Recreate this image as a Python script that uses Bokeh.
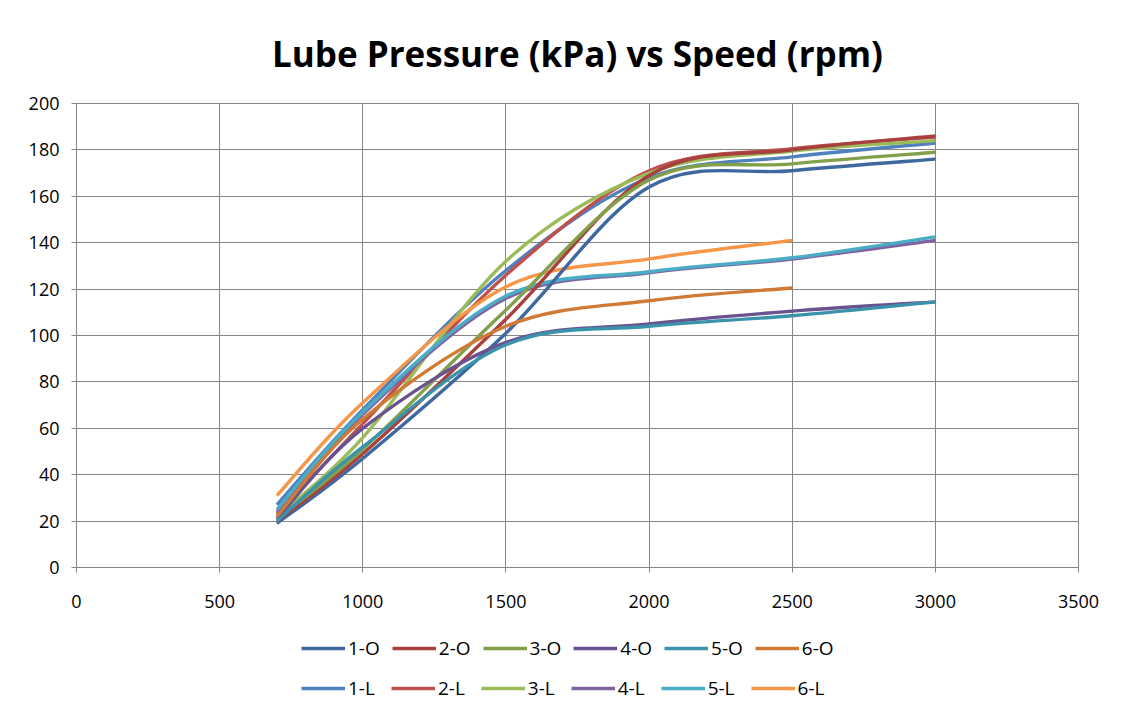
from bokeh.plotting import figure
from bokeh.models import Legend, LegendItem, Range1d, FixedTicker, Title
from bokeh.layouts import column
from bokeh.embed import file_html
from bokeh.resources import INLINE

# ---- data ----
speed_full = [700, 1000, 1500, 2000, 2500, 3000]
speed_short = [700, 1000, 1500, 2000, 2500]

s1_O = [19, 47, 101, 164, 171, 176]
s2_O = [20, 49, 107, 169, 180, 186]
s3_O = [21, 51, 111, 167, 174, 179]
s4_O = [21, 60, 97, 105, 110.5, 114.5]
s5_O = [20, 52, 96, 104, 108.5, 114.5]
s6_O = [22, 64, 104, 115, 120.5]

s1_L = [27, 68, 128, 168, 177, 183]
s2_L = [23, 62, 126, 171, 180.5, 185.5]
s3_L = [22, 56, 132, 170, 179.5, 184]
s4_L = [24, 66, 116, 127, 133, 141]
s5_L = [25, 67, 117, 127.5, 133.5, 142.5]
s6_L = [31, 71, 121, 133, 141]

names = ["1-O", "2-O", "3-O", "4-O", "5-O", "6-O",
         "1-L", "2-L", "3-L", "4-L", "5-L", "6-L"]
values = [s1_O, s2_O, s3_O, s4_O, s5_O, s6_O,
          s1_L, s2_L, s3_L, s4_L, s5_L, s6_L]
colors = ["#3F68A0", "#A8403D", "#82A04A", "#6A5290", "#3A93AA", "#D07A36",
          "#4F81BD", "#C0504D", "#9BBB59", "#8064A2", "#4BACC6", "#F79646"]

x_ticks = [0, 500, 1000, 1500, 2000, 2500, 3000, 3500]
y_ticks = [0, 20, 40, 60, 80, 100, 120, 140, 160, 180, 200]

FONT = "Open Sans"

p = figure(width=1122, height=622, output_backend="svg", toolbar_location=None,
           x_range=Range1d(0, 3500), y_range=Range1d(0, 200),
           frame_width=1002, frame_height=464,
           min_border_left=76, min_border_right=44, min_border_top=103,
           min_border_bottom=55)

p.title = Title(text="Lube Pressure (kPa) vs Speed (rpm)", align="center",
                text_font=FONT, text_font_size="35px", text_font_style="bold",
                text_color="#000000", offset=4, standoff=54)

p.xaxis.ticker = FixedTicker(ticks=x_ticks)
p.yaxis.ticker = FixedTicker(ticks=y_ticks)
for ax in (p.xaxis[0], p.yaxis[0]):
    ax.axis_line_color = "#868686"
    ax.major_tick_line_color = "#868686"
    ax.major_tick_in = 0
    ax.major_tick_out = 5
    ax.minor_tick_line_color = None
    ax.major_label_text_font = FONT
    ax.major_label_text_font_size = "18px"
    ax.major_label_text_color = "#000000"
p.xaxis.major_label_standoff = 22
p.yaxis.major_label_standoff = 12

p.xgrid.grid_line_color = "#868686"
p.ygrid.grid_line_color = "#868686"
p.xgrid.grid_line_width = 1
p.ygrid.grid_line_width = 1
p.outline_line_color = "#868686"
p.background_fill_color = "white"
p.border_fill_color = "white"


def bez_segments(xs, ys):
    n = len(xs)
    x0, y0, x1, y1, cx0, cy0, cx1, cy1 = [], [], [], [], [], [], [], []
    for i in range(n - 1):
        ip = max(i - 1, 0)
        inn = min(i + 2, n - 1)
        x0.append(xs[i]); y0.append(ys[i])
        x1.append(xs[i + 1]); y1.append(ys[i + 1])
        cx0.append(xs[i] + (xs[i + 1] - xs[ip]) / 6.0)
        cy0.append(ys[i] + (ys[i + 1] - ys[ip]) / 6.0)
        cx1.append(xs[i + 1] - (xs[inn] - xs[i]) / 6.0)
        cy1.append(ys[i + 1] - (ys[inn] - ys[i]) / 6.0)
    return dict(x0=x0, y0=y0, x1=x1, y1=y1, cx0=cx0, cy0=cy0, cx1=cx1, cy1=cy1)


order = [6, 7, 8, 9, 10, 11, 0, 1, 2, 3, 4, 5]
for i in order:
    ys = values[i]
    xs = speed_full if len(ys) == len(speed_full) else speed_short
    seg = bez_segments(xs, ys)
    p.bezier(x0=seg["x0"], y0=seg["y0"], x1=seg["x1"], y1=seg["y1"],
             cx0=seg["cx0"], cy0=seg["cy0"], cx1=seg["cx1"], cy1=seg["cy1"],
             line_color=colors[i], line_width=3.4)

# ---- legend panel below the chart ----
pl = figure(width=1122, height=97, output_backend="svg", toolbar_location=None,
            x_range=Range1d(0, 1), y_range=Range1d(0, 1),
            x_axis_location=None, y_axis_location=None,
            min_border=0, min_border_left=0, min_border_right=0,
            min_border_top=0, min_border_bottom=0)
pl.grid.visible = False
pl.outline_line_color = None
pl.background_fill_color = "white"
pl.border_fill_color = "white"

# legend proxies: series styles, drawn outside the visible range
proxies = {}
for i in range(12):
    proxies[i] = pl.line(x=[-5, -4], y=[-5, -4], line_color=colors[i], line_width=3.4)

items_O = [LegendItem(label=names[i], renderers=[proxies[i]]) for i in range(6)]
items_L = [LegendItem(label=names[i + 6], renderers=[proxies[i + 6]]) for i in range(6)]

for items, loc, sp in ((items_O, (225, 58), 12), (items_L, (225, 18), 16)):
    lg = Legend(items=items, orientation="horizontal", location=loc,
                glyph_width=44, glyph_height=20, label_standoff=3, spacing=sp,
                padding=0, margin=0,
                label_text_font=FONT, label_text_font_size="19px",
                label_text_color="#000000", label_height=20,
                border_line_color=None, background_fill_alpha=0)
    pl.add_layout(lg, "center")

layout = column(p, pl, spacing=0)
open("out.html", "w").write(file_html(layout, INLINE))
